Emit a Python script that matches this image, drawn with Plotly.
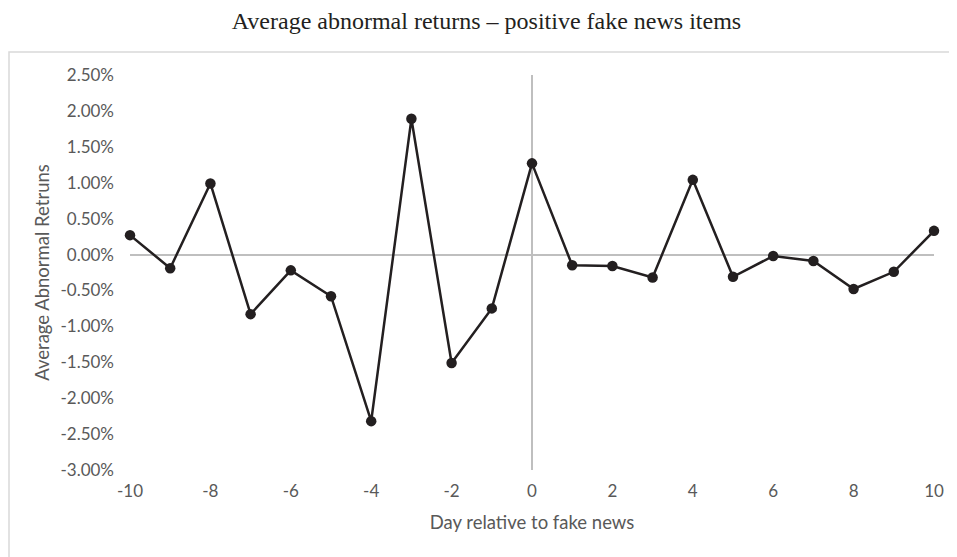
import plotly.graph_objects as go

days = list(range(-10, 11))
aar = [0.27, -0.19, 0.99, -0.83, -0.22, -0.58, -2.32, 1.89, -1.51, -0.75, 1.27,
       -0.15, -0.16, -0.32, 1.04, -0.31, -0.02, -0.09, -0.48, -0.24, 0.33]
aar_frac = [v / 100 for v in aar]
y_ticks = [0.025 - 0.005 * i for i in range(12)]
y_text = ["%.2f%%" % (v * 100) for v in y_ticks]
y_text = ["0.00%" if t == "-0.00%" else t for t in y_text]
x_ticks = list(range(-10, 11, 2))
x_text = [str(v) for v in x_ticks]

FONT = "Lato, sans-serif"

fig = go.Figure()
fig.add_trace(go.Scatter(
    x=days, y=aar_frac, mode="lines+markers",
    line=dict(color="#231f20", width=2.5),
    marker=dict(color="#231f20", size=10.5),
    cliponaxis=False, showlegend=False,
))

fig.update_layout(
    width=957, height=557,
    margin=dict(l=122, r=31, t=67, b=95),
    paper_bgcolor="white", plot_bgcolor="white",
    title=dict(text="Average abnormal returns \u2013 positive fake news items",
               x=0.5, xanchor="center", y=0.978, yanchor="middle",
               font=dict(family="Liberation Serif", size=24, color="#231f20")),
    font=dict(family=FONT, size=17, color="#595959"),
    xaxis=dict(range=[-10, 10], tickvals=x_ticks, ticktext=x_text, showgrid=False,
               zeroline=True, zerolinecolor="#bfbfbf", zerolinewidth=1.5,
               showline=False, ticks="", ticklabelstandoff=9,
               title=dict(text="Day relative to fake news", standoff=16,
                          font=dict(size=18.5, color="#595959"))),
    yaxis=dict(range=[-0.03, 0.025], tickvals=y_ticks, ticktext=y_text,
               showgrid=False, zeroline=True, zerolinecolor="#bfbfbf",
               zerolinewidth=1.5, showline=False, ticks="", ticklabelstandoff=15,
               title=dict(text="Average Abnormal Retruns", standoff=5,
                          font=dict(size=18.5, color="#595959"))),
    shapes=[dict(type="rect", xref="paper", yref="paper",
                 x0=-0.1505, x1=1.1, y0=-0.3, y1=1.058,
                 line=dict(color="#d9d9d9", width=1.5), fillcolor="rgba(0,0,0,0)",
                 layer="below")],
)

fig.write_html("out.html")
